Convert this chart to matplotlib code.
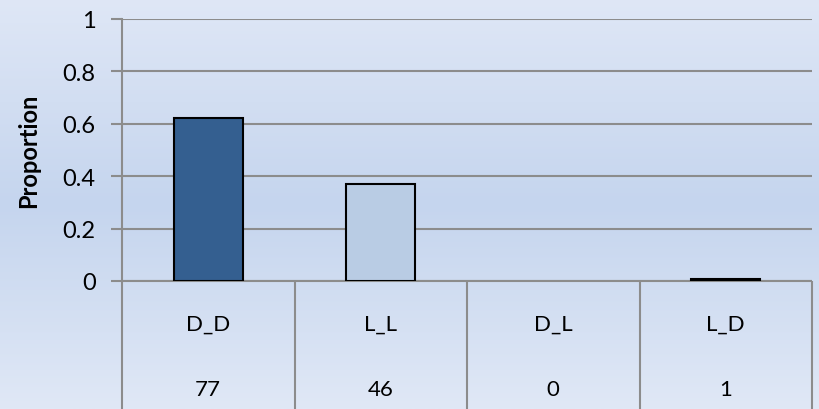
import numpy as np
import matplotlib
matplotlib.use("Agg")
import matplotlib.pyplot as plt
from matplotlib.colors import LinearSegmentedColormap

categories = ["D_D", "L_L", "D_L", "L_D"]
counts = [77, 46, 0, 1]
total = sum(counts)
proportions = [c / total for c in counts]
bar_colors = ["#345f90", "#b9cce4", "#b9cce4", "#b9cce4"]
yticks = [0, 0.2, 0.4, 0.6, 0.8, 1.0]
ytick_labels = ["0", "0.2", "0.4", "0.6", "0.8", "1"]

W, H = 819, 410
fig = plt.figure(figsize=(W / 100, H / 100), dpi=100)
plt.rcParams["font.family"] = ["Lato", "DejaVu Sans"]

# gradient background for the whole chart area
bg = fig.add_axes([0, 0, 1, 1], zorder=-10)
grad_cmap = LinearSegmentedColormap.from_list(
    "bg", [(0.0, "#dfe7f6"), (0.5, "#c5d5ee"), (1.0, "#e0e8f6")])
bg.imshow(np.linspace(0, 1, 256).reshape(-1, 1), aspect="auto", cmap=grad_cmap,
          extent=[0, 1, 0, 1], origin="upper")
bg.set_axis_off()

x0, x1 = 122 / W, 812 / W
y_bottom, y_top = (H - 282) / H, (H - 20) / H
ax = fig.add_axes([x0, y_bottom, x1 - x0, y_top - y_bottom])
ax.set_facecolor("none")

grid_color = "#8c8c8c"
x = np.arange(len(categories))
edge_widths = [1.5 if p > 0 else 0 for p in proportions]
ax.bar(x, proportions, width=0.4, color=bar_colors, edgecolor="black",
       linewidth=edge_widths, zorder=3)

ax.set_xlim(-0.5, len(categories) - 0.5)
ax.set_ylim(0, 1)
ax.set_yticks(yticks)
ax.set_yticklabels(ytick_labels, fontsize=17)
ax.set_xticks([])
ax.yaxis.grid(True, color=grid_color, linewidth=1.5, zorder=0,
              solid_capstyle="butt")
ax.set_axisbelow(True)
ax.tick_params(axis="y", length=8, width=1.5, color=grid_color, pad=11,
               direction="out")
for side in ["top", "right", "bottom"]:
    ax.spines[side].set_visible(False)
ax.spines["left"].set_color(grid_color)
ax.spines["left"].set_linewidth(1.5)
ax.set_ylabel("Proportion", fontsize=17, fontweight="bold", labelpad=16)

# data table under the plot: category names and counts
trans = ax.get_xaxis_transform()
table_bottom = -(H - 282) / (282 - 20)
for b in np.arange(-0.5, len(categories), 1.0):
    ax.plot([b, b], [0, table_bottom], transform=trans, color=grid_color,
            linewidth=1.5, clip_on=False, solid_capstyle="butt")
ax.plot([-0.5, len(categories) - 0.5], [0, 0], transform=trans,
        color=grid_color, linewidth=1.5, clip_on=False, zorder=1,
        solid_capstyle="butt")

row1 = -(325 - 282) / (282 - 20)
row2 = -(390 - 282) / (282 - 20)
for xi, cat, cnt in zip(x, categories, counts):
    ax.text(xi, row1, cat, transform=trans, ha="center", va="center",
            fontsize=16)
    ax.text(xi, row2, str(cnt), transform=trans, ha="center", va="center",
            fontsize=16)

fig.savefig("out.png", dpi=100)
